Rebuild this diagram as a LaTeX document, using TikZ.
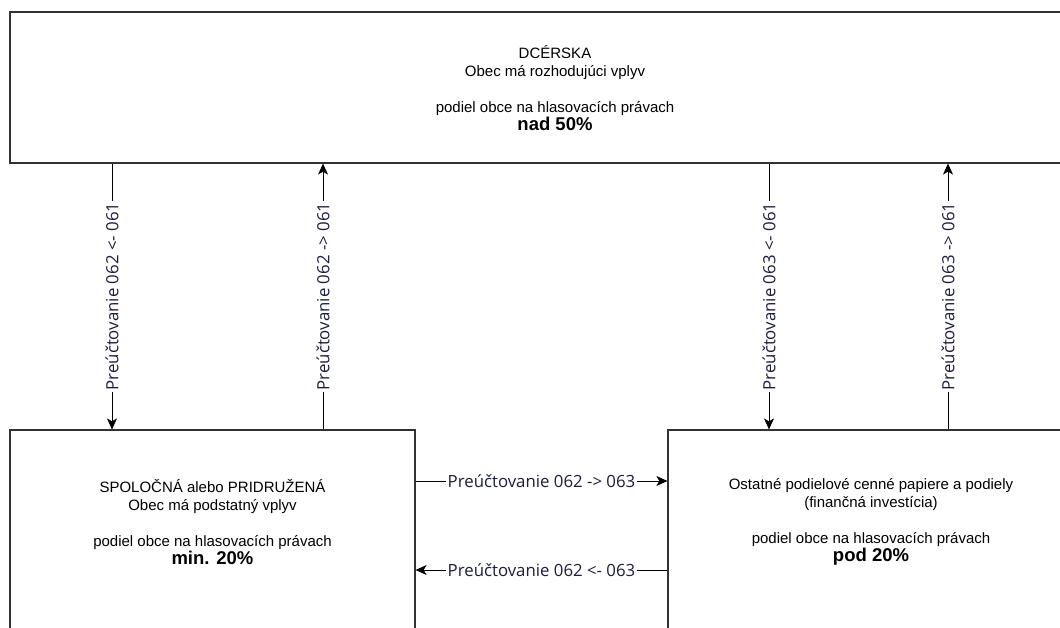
\documentclass[tikz,border=0pt]{standalone}
\usepackage{fontspec}
\setmainfont{Liberation Sans}
\newfontfamily\arrowfont{Open Sans}
\usetikzlibrary{arrows.meta}
\definecolor{labelblue}{RGB}{28,30,62}
\definecolor{boxline}{RGB}{50,50,50}

\begin{document}
\begin{tikzpicture}[x=1pt,y=-1pt,
    box/.style={draw=boxline,line width=1.2pt,rectangle,inner sep=0pt},
    boxtext/.style={align=center,font=\fontsize{15}{18}\selectfont},
    conn/.style={draw=black,line width=0.9pt,-{Stealth[length=11pt,width=10pt,inset=3pt]}},
    lbl/.style={fill=white,font=\arrowfont\fontsize{16.8}{18}\selectfont,text=labelblue,inner sep=1.5pt}]
                \useasboundingbox (0,0) rectangle (1060,628);
                \clip (0,0) rectangle (1060,628);
                % boxes
                \node[box,minimum width=1090pt,minimum height=151pt] (dcerska) at (555,87.5) {};
                \node[box,minimum width=405pt,minimum height=210pt] (spolocna) at (212.5,535) {};
                \node[box,minimum width=406pt,minimum height=210pt] (ostatne) at (871,535) {};
                \node[boxtext] (dcerska text) at (555,88) {DCÉRSKA\\Obec má rozhodujúci vplyv\\[18pt]podiel obce na hlasovacích právach\\{\fontsize{18.5}{20}\selectfont\bfseries nad 50\%}};
                \node[boxtext] (spolocna text) at (212.5,522) {SPOLOČNÁ alebo PRIDRUŽENÁ\\Obec má podstatný vplyv\\[18pt]podiel obce na hlasovacích právach\\{\fontsize{18.5}{20}\selectfont\bfseries min. 20\%}};
                \node[boxtext] (ostatne text) at (871,522) {Ostatné podielové cenné papiere a podiely\\(finančná investícia)\\[18pt]podiel obce na hlasovacích právach\\{\fontsize{18.5}{20}\selectfont\bfseries pod 20\%}};
                % connector positions
                \coordinate (c1) at (112,0);
                \coordinate (c2) at (323,0);
                \coordinate (c3) at (769,0);
                \coordinate (c4) at (948,0);
                \coordinate (r1) at (0,481);
                \coordinate (r2) at (0,570);
                % connectors
                \draw[conn] (dcerska.south -| c1) -- (spolocna.north -| c1) node[midway,lbl,rotate=90] {Preúčtovanie 062 <- 061};
                \draw[conn] (spolocna.north -| c2) -- (dcerska.south -| c2) node[midway,lbl,rotate=90] {Preúčtovanie 062 -> 061};
                \draw[conn] (dcerska.south -| c3) -- (ostatne.north -| c3) node[midway,lbl,rotate=90] {Preúčtovanie 063 <- 061};
                \draw[conn] (ostatne.north -| c4) -- (dcerska.south -| c4) node[midway,lbl,rotate=90] {Preúčtovanie 063 -> 061};
                \draw[conn] (spolocna.east |- r1) -- (ostatne.west |- r1) node[midway,lbl] {Preúčtovanie 062 -> 063};
                \draw[conn] (ostatne.west |- r2) -- (spolocna.east |- r2) node[midway,lbl] {Preúčtovanie 062 <- 063};
            \end{tikzpicture}
\end{document}
